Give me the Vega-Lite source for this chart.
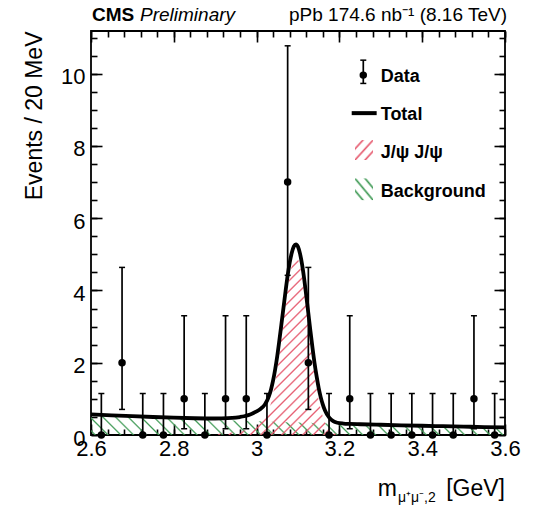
{
  "$schema": "https://vega.github.io/schema/vega-lite/v6.json",
  "width": 414,
  "height": 404,
  "autosize": {"type": "none"},
  "padding": {"left": 91, "top": 31, "right": 30, "bottom": 73},
  "background": "white",
  "config": {
    "font": "Liberation Sans",
    "view": {"stroke": "black", "strokeWidth": 1.8},
    "axis": {
      "grid": false, "domain": false, "tickColor": "black", "tickWidth": 1.6,
      "labelColor": "black", "labelFont": "Liberation Sans", "labelFontSize": 22,
      "labelFlush": false, "labelOverlap": false,
      "titleColor": "black", "titleFont": "Liberation Sans", "titleFontWeight": "normal", "titleFontSize": 23
    }
  },
  "datasets": {
    "bins": [
      {"mass": 2.625, "n": 0, "lo": 0, "hi": 1.148},
      {"mass": 2.675, "n": 2, "lo": 0.708, "hi": 4.638},
      {"mass": 2.725, "n": 0, "lo": 0, "hi": 1.148},
      {"mass": 2.775, "n": 0, "lo": 0, "hi": 1.148},
      {"mass": 2.825, "n": 1, "lo": 0.173, "hi": 3.3},
      {"mass": 2.875, "n": 0, "lo": 0, "hi": 1.148},
      {"mass": 2.925, "n": 1, "lo": 0.173, "hi": 3.3},
      {"mass": 2.975, "n": 1, "lo": 0.173, "hi": 3.3},
      {"mass": 3.025, "n": 0, "lo": 0, "hi": 1.148},
      {"mass": 3.075, "n": 7, "lo": 4.419, "hi": 10.77},
      {"mass": 3.125, "n": 2, "lo": 0.708, "hi": 4.638},
      {"mass": 3.175, "n": 0, "lo": 0, "hi": 1.148},
      {"mass": 3.225, "n": 1, "lo": 0.173, "hi": 3.3},
      {"mass": 3.275, "n": 0, "lo": 0, "hi": 1.148},
      {"mass": 3.325, "n": 0, "lo": 0, "hi": 1.148},
      {"mass": 3.375, "n": 0, "lo": 0, "hi": 1.148},
      {"mass": 3.425, "n": 0, "lo": 0, "hi": 1.148},
      {"mass": 3.475, "n": 0, "lo": 0, "hi": 1.148},
      {"mass": 3.525, "n": 1, "lo": 0.173, "hi": 3.3},
      {"mass": 3.575, "n": 0, "lo": 0, "hi": 1.148}
    ],
    "curve": [
      {"x": 2.6, "bg": 0.570, "sig": 0.001, "total": 0.571},
      {"x": 2.65, "bg": 0.542, "sig": 0.002, "total": 0.544},
      {"x": 2.7, "bg": 0.516, "sig": 0.004, "total": 0.520},
      {"x": 2.75, "bg": 0.491, "sig": 0.007, "total": 0.498},
      {"x": 2.8, "bg": 0.467, "sig": 0.012, "total": 0.479},
      {"x": 2.85, "bg": 0.444, "sig": 0.020, "total": 0.464},
      {"x": 2.9, "bg": 0.422, "sig": 0.035, "total": 0.457},
      {"x": 2.93, "bg": 0.410, "sig": 0.055, "total": 0.465},
      {"x": 2.95, "bg": 0.402, "sig": 0.080, "total": 0.482},
      {"x": 2.96, "bg": 0.398, "sig": 0.100, "total": 0.498},
      {"x": 2.97, "bg": 0.394, "sig": 0.125, "total": 0.519},
      {"x": 2.98, "bg": 0.390, "sig": 0.160, "total": 0.550},
      {"x": 2.99, "bg": 0.386, "sig": 0.210, "total": 0.596},
      {"x": 3.0, "bg": 0.382, "sig": 0.270, "total": 0.652},
      {"x": 3.01, "bg": 0.378, "sig": 0.350, "total": 0.728},
      {"x": 3.02, "bg": 0.375, "sig": 0.470, "total": 0.845},
      {"x": 3.025, "bg": 0.373, "sig": 0.570, "total": 0.943},
      {"x": 3.03, "bg": 0.371, "sig": 0.710, "total": 1.081},
      {"x": 3.035, "bg": 0.369, "sig": 0.900, "total": 1.269},
      {"x": 3.04, "bg": 0.367, "sig": 1.150, "total": 1.517},
      {"x": 3.045, "bg": 0.365, "sig": 1.460, "total": 1.825},
      {"x": 3.05, "bg": 0.363, "sig": 1.830, "total": 2.193},
      {"x": 3.055, "bg": 0.361, "sig": 2.260, "total": 2.621},
      {"x": 3.06, "bg": 0.360, "sig": 2.710, "total": 3.070},
      {"x": 3.065, "bg": 0.358, "sig": 3.170, "total": 3.528},
      {"x": 3.07, "bg": 0.356, "sig": 3.630, "total": 3.986},
      {"x": 3.075, "bg": 0.354, "sig": 4.060, "total": 4.414},
      {"x": 3.08, "bg": 0.353, "sig": 4.420, "total": 4.773},
      {"x": 3.085, "bg": 0.351, "sig": 4.690, "total": 5.041},
      {"x": 3.09, "bg": 0.349, "sig": 4.870, "total": 5.219},
      {"x": 3.095, "bg": 0.347, "sig": 4.930, "total": 5.277},
      {"x": 3.1, "bg": 0.346, "sig": 4.865, "total": 5.211},
      {"x": 3.105, "bg": 0.344, "sig": 4.670, "total": 5.014},
      {"x": 3.11, "bg": 0.342, "sig": 4.365, "total": 4.707},
      {"x": 3.115, "bg": 0.340, "sig": 3.975, "total": 4.315},
      {"x": 3.12, "bg": 0.339, "sig": 3.515, "total": 3.854},
      {"x": 3.125, "bg": 0.337, "sig": 3.030, "total": 3.367},
      {"x": 3.13, "bg": 0.336, "sig": 2.545, "total": 2.881},
      {"x": 3.135, "bg": 0.334, "sig": 2.080, "total": 2.414},
      {"x": 3.14, "bg": 0.332, "sig": 1.655, "total": 1.987},
      {"x": 3.145, "bg": 0.331, "sig": 1.290, "total": 1.621},
      {"x": 3.15, "bg": 0.329, "sig": 0.970, "total": 1.299},
      {"x": 3.155, "bg": 0.327, "sig": 0.715, "total": 1.042},
      {"x": 3.16, "bg": 0.326, "sig": 0.515, "total": 0.841},
      {"x": 3.165, "bg": 0.324, "sig": 0.360, "total": 0.684},
      {"x": 3.175, "bg": 0.321, "sig": 0.165, "total": 0.486},
      {"x": 3.185, "bg": 0.318, "sig": 0.067, "total": 0.385},
      {"x": 3.195, "bg": 0.314, "sig": 0.025, "total": 0.339},
      {"x": 3.21, "bg": 0.310, "sig": 0.006, "total": 0.316},
      {"x": 3.225, "bg": 0.305, "sig": 0.002, "total": 0.307},
      {"x": 3.25, "bg": 0.298, "sig": 0.0, "total": 0.298},
      {"x": 3.3, "bg": 0.283, "sig": 0.0, "total": 0.283},
      {"x": 3.35, "bg": 0.269, "sig": 0.0, "total": 0.269},
      {"x": 3.4, "bg": 0.256, "sig": 0.0, "total": 0.256},
      {"x": 3.45, "bg": 0.244, "sig": 0.0, "total": 0.244},
      {"x": 3.5, "bg": 0.232, "sig": 0.0, "total": 0.232},
      {"x": 3.55, "bg": 0.220, "sig": 0.0, "total": 0.220},
      {"x": 3.6, "bg": 0.210, "sig": 0.0, "total": 0.210}
    ]
  },
  "resolve": {"axis": {"x": "independent", "y": "independent"}},
  "layer": [
    {
      "data": {"name": "curve"},
      "mark": {
        "type": "area", "interpolate": "monotone", "clip": true,
        "fill": {
          "gradient": "linear", "x1": 0, "y1": 1, "x2": 1.0472, "y2": 0.9478,
          "stops": [
            {"offset": 0.006, "color": "#3f9a5500"}, {"offset": 0.01, "color": "#3f9a55"}, {"offset": 0.014, "color": "#3f9a5500"},
            {"offset": 0.0353, "color": "#3f9a5500"}, {"offset": 0.0393, "color": "#3f9a55"}, {"offset": 0.0433, "color": "#3f9a5500"},
            {"offset": 0.0646, "color": "#3f9a5500"}, {"offset": 0.0686, "color": "#3f9a55"}, {"offset": 0.0726, "color": "#3f9a5500"},
            {"offset": 0.0939, "color": "#3f9a5500"}, {"offset": 0.0979, "color": "#3f9a55"}, {"offset": 0.1019, "color": "#3f9a5500"},
            {"offset": 0.1232, "color": "#3f9a5500"}, {"offset": 0.1272, "color": "#3f9a55"}, {"offset": 0.1312, "color": "#3f9a5500"},
            {"offset": 0.1525, "color": "#3f9a5500"}, {"offset": 0.1565, "color": "#3f9a55"}, {"offset": 0.1605, "color": "#3f9a5500"},
            {"offset": 0.1818, "color": "#3f9a5500"}, {"offset": 0.1858, "color": "#3f9a55"}, {"offset": 0.1898, "color": "#3f9a5500"},
            {"offset": 0.2111, "color": "#3f9a5500"}, {"offset": 0.2151, "color": "#3f9a55"}, {"offset": 0.2191, "color": "#3f9a5500"},
            {"offset": 0.2404, "color": "#3f9a5500"}, {"offset": 0.2444, "color": "#3f9a55"}, {"offset": 0.2484, "color": "#3f9a5500"},
            {"offset": 0.2697, "color": "#3f9a5500"}, {"offset": 0.2737, "color": "#3f9a55"}, {"offset": 0.2777, "color": "#3f9a5500"},
            {"offset": 0.299, "color": "#3f9a5500"}, {"offset": 0.303, "color": "#3f9a55"}, {"offset": 0.307, "color": "#3f9a5500"},
            {"offset": 0.3283, "color": "#3f9a5500"}, {"offset": 0.3323, "color": "#3f9a55"}, {"offset": 0.3363, "color": "#3f9a5500"},
            {"offset": 0.3576, "color": "#3f9a5500"}, {"offset": 0.3616, "color": "#3f9a55"}, {"offset": 0.3656, "color": "#3f9a5500"},
            {"offset": 0.3869, "color": "#3f9a5500"}, {"offset": 0.3909, "color": "#3f9a55"}, {"offset": 0.3949, "color": "#3f9a5500"},
            {"offset": 0.4162, "color": "#3f9a5500"}, {"offset": 0.4202, "color": "#3f9a55"}, {"offset": 0.4242, "color": "#3f9a5500"},
            {"offset": 0.4455, "color": "#3f9a5500"}, {"offset": 0.4495, "color": "#3f9a55"}, {"offset": 0.4535, "color": "#3f9a5500"},
            {"offset": 0.4748, "color": "#3f9a5500"}, {"offset": 0.4788, "color": "#3f9a55"}, {"offset": 0.4828, "color": "#3f9a5500"},
            {"offset": 0.5041, "color": "#3f9a5500"}, {"offset": 0.5081, "color": "#3f9a55"}, {"offset": 0.5121, "color": "#3f9a5500"},
            {"offset": 0.5334, "color": "#3f9a5500"}, {"offset": 0.5374, "color": "#3f9a55"}, {"offset": 0.5414, "color": "#3f9a5500"},
            {"offset": 0.5627, "color": "#3f9a5500"}, {"offset": 0.5667, "color": "#3f9a55"}, {"offset": 0.5707, "color": "#3f9a5500"},
            {"offset": 0.592, "color": "#3f9a5500"}, {"offset": 0.596, "color": "#3f9a55"}, {"offset": 0.6, "color": "#3f9a5500"},
            {"offset": 0.6213, "color": "#3f9a5500"}, {"offset": 0.6253, "color": "#3f9a55"}, {"offset": 0.6293, "color": "#3f9a5500"},
            {"offset": 0.6506, "color": "#3f9a5500"}, {"offset": 0.6546, "color": "#3f9a55"}, {"offset": 0.6586, "color": "#3f9a5500"},
            {"offset": 0.6799, "color": "#3f9a5500"}, {"offset": 0.6839, "color": "#3f9a55"}, {"offset": 0.6879, "color": "#3f9a5500"},
            {"offset": 0.7092, "color": "#3f9a5500"}, {"offset": 0.7132, "color": "#3f9a55"}, {"offset": 0.7172, "color": "#3f9a5500"},
            {"offset": 0.7385, "color": "#3f9a5500"}, {"offset": 0.7425, "color": "#3f9a55"}, {"offset": 0.7465, "color": "#3f9a5500"},
            {"offset": 0.7678, "color": "#3f9a5500"}, {"offset": 0.7718, "color": "#3f9a55"}, {"offset": 0.7758, "color": "#3f9a5500"},
            {"offset": 0.7971, "color": "#3f9a5500"}, {"offset": 0.8011, "color": "#3f9a55"}, {"offset": 0.8051, "color": "#3f9a5500"},
            {"offset": 0.8264, "color": "#3f9a5500"}, {"offset": 0.8304, "color": "#3f9a55"}, {"offset": 0.8344, "color": "#3f9a5500"},
            {"offset": 0.8557, "color": "#3f9a5500"}, {"offset": 0.8597, "color": "#3f9a55"}, {"offset": 0.8637, "color": "#3f9a5500"},
            {"offset": 0.885, "color": "#3f9a5500"}, {"offset": 0.889, "color": "#3f9a55"}, {"offset": 0.893, "color": "#3f9a5500"},
            {"offset": 0.9143, "color": "#3f9a5500"}, {"offset": 0.9183, "color": "#3f9a55"}, {"offset": 0.9223, "color": "#3f9a5500"},
            {"offset": 0.9436, "color": "#3f9a5500"}, {"offset": 0.9476, "color": "#3f9a55"}, {"offset": 0.9516, "color": "#3f9a5500"},
            {"offset": 0.9729, "color": "#3f9a5500"}, {"offset": 0.9769, "color": "#3f9a55"}, {"offset": 0.9809, "color": "#3f9a5500"}
          ]
        }
      },
      "encoding": {
        "x": {"field": "x", "type": "quantitative", "scale": {"domain": [2.6, 3.6], "nice": false, "zero": false},
              "axis": {"orient": "bottom", "values": [2.6, 2.8, 3.0, 3.2, 3.4, 3.6], "format": ".1~f", "tickSize": -11, "labelPadding": 14, "title": null}},
        "y": {"field": "bg", "type": "quantitative", "scale": {"domain": [0, 11.18], "nice": false, "zero": false},
              "axis": {"orient": "left", "values": [0, 2, 4, 6, 8, 10], "tickSize": -11, "labelPadding": 17, "labelOffset": 3,
                       "title": "Events / 20 MeV", "titleAnchor": "end", "titlePadding": 14}}
      }
    },
    {
      "data": {"name": "curve"},
      "transform": [{"filter": "datum.x >= 2.9 && datum.x <= 3.25"}],
      "mark": {
        "type": "area", "interpolate": "monotone", "clip": true,
        "fill": {
          "gradient": "linear", "x1": 0, "y1": 0, "x2": 0.887, "y2": 1.091,
          "stops": [
            {"offset": 0.0045, "color": "#e5566b00"}, {"offset": 0.01, "color": "#e5566b"}, {"offset": 0.0155, "color": "#e5566b00"},
            {"offset": 0.037, "color": "#e5566b00"}, {"offset": 0.0425, "color": "#e5566b"}, {"offset": 0.048, "color": "#e5566b00"},
            {"offset": 0.0695, "color": "#e5566b00"}, {"offset": 0.075, "color": "#e5566b"}, {"offset": 0.0805, "color": "#e5566b00"},
            {"offset": 0.102, "color": "#e5566b00"}, {"offset": 0.1075, "color": "#e5566b"}, {"offset": 0.113, "color": "#e5566b00"},
            {"offset": 0.1345, "color": "#e5566b00"}, {"offset": 0.14, "color": "#e5566b"}, {"offset": 0.1455, "color": "#e5566b00"},
            {"offset": 0.167, "color": "#e5566b00"}, {"offset": 0.1725, "color": "#e5566b"}, {"offset": 0.178, "color": "#e5566b00"},
            {"offset": 0.1995, "color": "#e5566b00"}, {"offset": 0.205, "color": "#e5566b"}, {"offset": 0.2105, "color": "#e5566b00"},
            {"offset": 0.232, "color": "#e5566b00"}, {"offset": 0.2375, "color": "#e5566b"}, {"offset": 0.243, "color": "#e5566b00"},
            {"offset": 0.2645, "color": "#e5566b00"}, {"offset": 0.27, "color": "#e5566b"}, {"offset": 0.2755, "color": "#e5566b00"},
            {"offset": 0.297, "color": "#e5566b00"}, {"offset": 0.3025, "color": "#e5566b"}, {"offset": 0.308, "color": "#e5566b00"},
            {"offset": 0.3295, "color": "#e5566b00"}, {"offset": 0.335, "color": "#e5566b"}, {"offset": 0.3405, "color": "#e5566b00"},
            {"offset": 0.362, "color": "#e5566b00"}, {"offset": 0.3675, "color": "#e5566b"}, {"offset": 0.373, "color": "#e5566b00"},
            {"offset": 0.3945, "color": "#e5566b00"}, {"offset": 0.4, "color": "#e5566b"}, {"offset": 0.4055, "color": "#e5566b00"},
            {"offset": 0.427, "color": "#e5566b00"}, {"offset": 0.4325, "color": "#e5566b"}, {"offset": 0.438, "color": "#e5566b00"},
            {"offset": 0.4595, "color": "#e5566b00"}, {"offset": 0.465, "color": "#e5566b"}, {"offset": 0.4705, "color": "#e5566b00"},
            {"offset": 0.492, "color": "#e5566b00"}, {"offset": 0.4975, "color": "#e5566b"}, {"offset": 0.503, "color": "#e5566b00"},
            {"offset": 0.5245, "color": "#e5566b00"}, {"offset": 0.53, "color": "#e5566b"}, {"offset": 0.5355, "color": "#e5566b00"},
            {"offset": 0.557, "color": "#e5566b00"}, {"offset": 0.5625, "color": "#e5566b"}, {"offset": 0.568, "color": "#e5566b00"},
            {"offset": 0.5895, "color": "#e5566b00"}, {"offset": 0.595, "color": "#e5566b"}, {"offset": 0.6005, "color": "#e5566b00"},
            {"offset": 0.622, "color": "#e5566b00"}, {"offset": 0.6275, "color": "#e5566b"}, {"offset": 0.633, "color": "#e5566b00"},
            {"offset": 0.6545, "color": "#e5566b00"}, {"offset": 0.66, "color": "#e5566b"}, {"offset": 0.6655, "color": "#e5566b00"},
            {"offset": 0.687, "color": "#e5566b00"}, {"offset": 0.6925, "color": "#e5566b"}, {"offset": 0.698, "color": "#e5566b00"},
            {"offset": 0.7195, "color": "#e5566b00"}, {"offset": 0.725, "color": "#e5566b"}, {"offset": 0.7305, "color": "#e5566b00"},
            {"offset": 0.752, "color": "#e5566b00"}, {"offset": 0.7575, "color": "#e5566b"}, {"offset": 0.763, "color": "#e5566b00"},
            {"offset": 0.7845, "color": "#e5566b00"}, {"offset": 0.79, "color": "#e5566b"}, {"offset": 0.7955, "color": "#e5566b00"},
            {"offset": 0.817, "color": "#e5566b00"}, {"offset": 0.8225, "color": "#e5566b"}, {"offset": 0.828, "color": "#e5566b00"},
            {"offset": 0.8495, "color": "#e5566b00"}, {"offset": 0.855, "color": "#e5566b"}, {"offset": 0.8605, "color": "#e5566b00"},
            {"offset": 0.882, "color": "#e5566b00"}, {"offset": 0.8875, "color": "#e5566b"}, {"offset": 0.893, "color": "#e5566b00"},
            {"offset": 0.9145, "color": "#e5566b00"}, {"offset": 0.92, "color": "#e5566b"}, {"offset": 0.9255, "color": "#e5566b00"},
            {"offset": 0.947, "color": "#e5566b00"}, {"offset": 0.9525, "color": "#e5566b"}, {"offset": 0.958, "color": "#e5566b00"},
            {"offset": 0.9795, "color": "#e5566b00"}, {"offset": 0.985, "color": "#e5566b"}, {"offset": 0.9905, "color": "#e5566b00"}
          ]
        }
      },
      "encoding": {
        "x": {"field": "x", "type": "quantitative", "scale": {"domain": [2.6, 3.6], "nice": false, "zero": false},
              "axis": {"orient": "bottom", "values": [2.6, 2.64, 2.68, 2.72, 2.76, 2.8, 2.84, 2.88, 2.92, 2.96, 3.0, 3.04, 3.08, 3.12, 3.16, 3.2, 3.24, 3.28, 3.32, 3.36, 3.4, 3.44, 3.48, 3.52, 3.56, 3.6],
                       "tickSize": -6, "labels": false, "title": null}},
        "y": {"field": "sig", "type": "quantitative", "scale": {"domain": [0, 11.18], "nice": false, "zero": false},
              "axis": {"orient": "left", "values": [0, 0.5, 1, 1.5, 2, 2.5, 3, 3.5, 4, 4.5, 5, 5.5, 6, 6.5, 7, 7.5, 8, 8.5, 9, 9.5, 10, 10.5, 11],
                       "tickSize": -6, "labels": false, "title": null}}
      }
    },
    {
      "data": {"name": "curve"},
      "mark": {"type": "line", "interpolate": "monotone", "color": "black", "strokeWidth": 3.8, "clip": true},
      "encoding": {
        "x": {"field": "x", "type": "quantitative", "scale": {"domain": [2.6, 3.6], "nice": false, "zero": false},
              "axis": {"orient": "top", "values": [2.6, 2.8, 3.0, 3.2, 3.4, 3.6], "tickSize": -11, "labels": false, "title": null}},
        "y": {"field": "total", "type": "quantitative", "scale": {"domain": [0, 11.18], "nice": false, "zero": false},
              "axis": {"orient": "right", "values": [0, 2, 4, 6, 8, 10], "tickSize": -11, "labels": false, "title": null}}
      }
    },
    {
      "data": {"name": "bins"},
      "mark": {"type": "rule", "color": "black", "strokeWidth": 1.7},
      "encoding": {
        "x": {"field": "mass", "type": "quantitative", "scale": {"domain": [2.6, 3.6], "nice": false, "zero": false},
              "axis": {"orient": "top", "values": [2.6, 2.64, 2.68, 2.72, 2.76, 2.8, 2.84, 2.88, 2.92, 2.96, 3.0, 3.04, 3.08, 3.12, 3.16, 3.2, 3.24, 3.28, 3.32, 3.36, 3.4, 3.44, 3.48, 3.52, 3.56, 3.6],
                       "tickSize": -6, "labels": false, "title": null}},
        "y": {"field": "lo", "type": "quantitative", "scale": {"domain": [0, 11.18], "nice": false, "zero": false},
              "axis": {"orient": "right", "values": [0, 0.5, 1, 1.5, 2, 2.5, 3, 3.5, 4, 4.5, 5, 5.5, 6, 6.5, 7, 7.5, 8, 8.5, 9, 9.5, 10, 10.5, 11],
                       "tickSize": -6, "labels": false, "title": null}},
        "y2": {"field": "hi"}
      }
    },
    {
      "data": {"name": "bins"},
      "mark": {"type": "tick", "orient": "horizontal", "size": 6, "thickness": 1.5, "color": "black", "opacity": 1},
      "encoding": {
        "x": {"field": "mass", "type": "quantitative", "scale": {"domain": [2.6, 3.6], "nice": false, "zero": false}, "axis": null},
        "y": {"field": "hi", "type": "quantitative", "scale": {"domain": [0, 11.18], "nice": false, "zero": false}, "axis": null}
      }
    },
    {
      "data": {"name": "bins"},
      "transform": [{"filter": "datum.n > 0"}],
      "mark": {"type": "tick", "orient": "horizontal", "size": 6, "thickness": 1.5, "color": "black", "opacity": 1},
      "encoding": {
        "x": {"field": "mass", "type": "quantitative", "scale": {"domain": [2.6, 3.6], "nice": false, "zero": false}, "axis": null},
        "y": {"field": "lo", "type": "quantitative", "scale": {"domain": [0, 11.18], "nice": false, "zero": false}, "axis": null}
      }
    },
    {
      "data": {"name": "bins"},
      "mark": {"type": "circle", "size": 56, "color": "black", "opacity": 1},
      "encoding": {
        "x": {"field": "mass", "type": "quantitative", "scale": {"domain": [2.6, 3.6], "nice": false, "zero": false}, "axis": null},
        "y": {"field": "n", "type": "quantitative", "scale": {"domain": [0, 11.18], "nice": false, "zero": false}, "axis": null}
      }
    },
    {
      "data": {"values": [{}]},
      "mark": {"type": "rule", "color": "black", "strokeWidth": 1.7},
      "encoding": {
        "x": {"datum": 3.2577, "type": "quantitative", "axis": null},
        "y": {"datum": 9.729, "type": "quantitative", "axis": null},
        "y2": {"datum": 10.373}
      }
    },
    {
      "data": {"values": [{}]},
      "mark": {"type": "tick", "orient": "horizontal", "size": 6, "thickness": 1.5, "color": "black", "opacity": 1},
      "encoding": {
        "x": {"datum": 3.2577, "type": "quantitative", "axis": null},
        "y": {"datum": 10.373, "type": "quantitative", "axis": null}
      }
    },
    {
      "data": {"values": [{}]},
      "mark": {"type": "tick", "orient": "horizontal", "size": 6, "thickness": 1.5, "color": "black", "opacity": 1},
      "encoding": {
        "x": {"datum": 3.2577, "type": "quantitative", "axis": null},
        "y": {"datum": 9.729, "type": "quantitative", "axis": null}
      }
    },
    {
      "data": {"values": [{}]},
      "mark": {"type": "circle", "size": 56, "color": "black", "opacity": 1},
      "encoding": {
        "x": {"datum": 3.2577, "type": "quantitative", "axis": null},
        "y": {"datum": 9.959, "type": "quantitative", "axis": null}
      }
    },
    {
      "data": {"values": [{}]},
      "mark": {"type": "rule", "color": "black", "strokeWidth": 4},
      "encoding": {
        "x": {"datum": 3.2297, "type": "quantitative", "axis": null},
        "x2": {"datum": 3.29},
        "y": {"datum": 8.907, "type": "quantitative", "axis": null}
      }
    },
    {
      "data": {"values": [{}]},
      "mark": {
        "type": "rect",
        "fill": {
          "gradient": "linear", "x1": 0, "y1": 0, "x2": 1, "y2": 1,
          "stops": [
            {"offset": 0.16, "color": "#e5566b00"}, {"offset": 0.22, "color": "#e5566b"}, {"offset": 0.28, "color": "#e5566b00"},
            {"offset": 0.44, "color": "#e5566b00"}, {"offset": 0.5, "color": "#e5566b"}, {"offset": 0.56, "color": "#e5566b00"},
            {"offset": 0.72, "color": "#e5566b00"}, {"offset": 0.78, "color": "#e5566b"}, {"offset": 0.84, "color": "#e5566b00"}
          ]
        }
      },
      "encoding": {
        "x": {"datum": 3.2377, "type": "quantitative", "axis": null},
        "x2": {"datum": 3.2812},
        "y": {"datum": 8.16, "type": "quantitative", "axis": null},
        "y2": {"datum": 7.61}
      }
    },
    {
      "data": {"values": [{}]},
      "mark": {
        "type": "rect",
        "fill": {
          "gradient": "linear", "x1": 0, "y1": 1, "x2": 1, "y2": 0,
          "stops": [
            {"offset": 0.16, "color": "#3f9a5500"}, {"offset": 0.22, "color": "#3f9a55"}, {"offset": 0.28, "color": "#3f9a5500"},
            {"offset": 0.44, "color": "#3f9a5500"}, {"offset": 0.5, "color": "#3f9a55"}, {"offset": 0.56, "color": "#3f9a5500"},
            {"offset": 0.72, "color": "#3f9a5500"}, {"offset": 0.78, "color": "#3f9a55"}, {"offset": 0.84, "color": "#3f9a5500"}
          ]
        }
      },
      "encoding": {
        "x": {"datum": 3.2377, "type": "quantitative", "axis": null},
        "x2": {"datum": 3.2812},
        "y": {"datum": 7.10, "type": "quantitative", "axis": null},
        "y2": {"datum": 6.50}
      }
    },
    {
      "data": {"values": [{}]},
      "mark": {"type": "text", "text": "Data", "fontSize": 18, "fontWeight": "bold", "align": "left", "baseline": "alphabetic", "color": "black"},
      "encoding": {
        "x": {"datum": 3.2998, "type": "quantitative", "axis": null},
        "y": {"datum": 9.77, "type": "quantitative", "axis": null}
      }
    },
    {
      "data": {"values": [{}]},
      "mark": {"type": "text", "text": "Total", "fontSize": 18, "fontWeight": "bold", "align": "left", "baseline": "alphabetic", "color": "black"},
      "encoding": {
        "x": {"datum": 3.2998, "type": "quantitative", "axis": null},
        "y": {"datum": 8.714, "type": "quantitative", "axis": null}
      }
    },
    {
      "data": {"values": [{}]},
      "mark": {"type": "text", "text": "J/ψ J/ψ", "fontSize": 18, "fontWeight": "bold", "align": "left", "baseline": "alphabetic", "color": "black"},
      "encoding": {
        "x": {"datum": 3.2998, "type": "quantitative", "axis": null},
        "y": {"datum": 7.66, "type": "quantitative", "axis": null}
      }
    },
    {
      "data": {"values": [{}]},
      "mark": {"type": "text", "text": "Background", "fontSize": 18, "fontWeight": "bold", "align": "left", "baseline": "alphabetic", "color": "black"},
      "encoding": {
        "x": {"datum": 3.2998, "type": "quantitative", "axis": null},
        "y": {"datum": 6.59, "type": "quantitative", "axis": null}
      }
    },
    {
      "data": {"values": [{}]},
      "mark": {"type": "text", "text": "CMS", "fontSize": 19, "fontWeight": "bold", "align": "left", "baseline": "alphabetic", "color": "black"},
      "encoding": {
        "x": {"datum": 2.6024, "type": "quantitative", "axis": null},
        "y": {"datum": 11.452, "type": "quantitative", "axis": null}
      }
    },
    {
      "data": {"values": [{}]},
      "mark": {"type": "text", "text": "Preliminary", "fontSize": 19, "fontStyle": "italic", "align": "left", "baseline": "alphabetic", "color": "black"},
      "encoding": {
        "x": {"datum": 2.7184, "type": "quantitative", "axis": null},
        "y": {"datum": 11.452, "type": "quantitative", "axis": null}
      }
    },
    {
      "data": {"values": [{}]},
      "mark": {"type": "text", "text": "pPb 174.6 nb⁻¹ (8.16 TeV)", "fontSize": 19, "align": "right", "baseline": "alphabetic", "color": "black"},
      "encoding": {
        "x": {"datum": 3.6048, "type": "quantitative", "axis": null},
        "y": {"datum": 11.452, "type": "quantitative", "axis": null}
      }
    },
    {
      "data": {"values": [{}]},
      "mark": {"type": "text", "text": "m", "fontSize": 23, "align": "right", "baseline": "alphabetic", "color": "black"},
      "encoding": {
        "x": {"datum": 3.339, "type": "quantitative", "axis": null},
        "y": {"datum": -1.687, "type": "quantitative", "axis": null}
      }
    },
    {
      "data": {"values": [{}]},
      "mark": {"type": "text", "text": "μ⁺μ⁻,2", "fontSize": 14, "align": "left", "baseline": "alphabetic", "color": "black"},
      "encoding": {
        "x": {"datum": 3.3415, "type": "quantitative", "axis": null},
        "y": {"datum": -1.853, "type": "quantitative", "axis": null}
      }
    },
    {
      "data": {"values": [{}]},
      "mark": {"type": "text", "text": "[GeV]", "fontSize": 23, "align": "right", "baseline": "alphabetic", "color": "black"},
      "encoding": {
        "x": {"datum": 3.6, "type": "quantitative", "axis": null},
        "y": {"datum": -1.687, "type": "quantitative", "axis": null}
      }
    }
  ]
}
